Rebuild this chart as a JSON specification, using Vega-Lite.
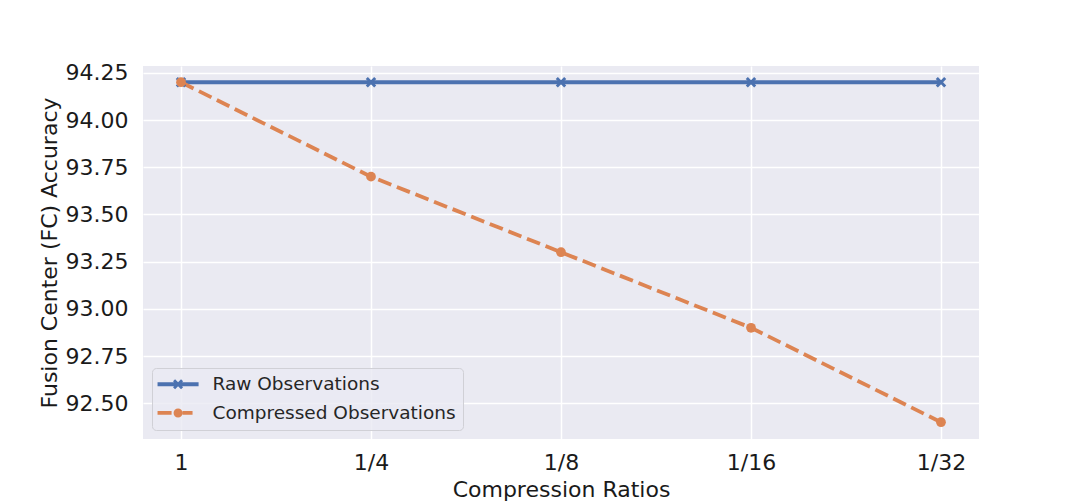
{
  "$schema": "https://vega.github.io/schema/vega-lite/v6.json",
  "autosize": {"type": "none"},
  "padding": {"left": 143, "top": 66, "right": 110, "bottom": 65},
  "width": 836,
  "height": 373,
  "background": "white",
  "data": {
    "values": [
      {"ratio": "1", "series": "Raw Observations", "accuracy": 94.2},
      {"ratio": "1/4", "series": "Raw Observations", "accuracy": 94.2},
      {"ratio": "1/8", "series": "Raw Observations", "accuracy": 94.2},
      {"ratio": "1/16", "series": "Raw Observations", "accuracy": 94.2},
      {"ratio": "1/32", "series": "Raw Observations", "accuracy": 94.2},
      {"ratio": "1", "series": "Compressed Observations", "accuracy": 94.2},
      {"ratio": "1/4", "series": "Compressed Observations", "accuracy": 93.7},
      {"ratio": "1/8", "series": "Compressed Observations", "accuracy": 93.3},
      {"ratio": "1/16", "series": "Compressed Observations", "accuracy": 92.9},
      {"ratio": "1/32", "series": "Compressed Observations", "accuracy": 92.4}
    ]
  },
  "encoding": {
    "x": {
      "field": "ratio",
      "type": "ordinal",
      "sort": ["1", "1/4", "1/8", "1/16", "1/32"],
      "scale": {"type": "point", "padding": 0.2},
      "axis": {
        "title": "Compression Ratios",
        "labelAngle": 0,
        "labelPadding": 13,
        "titlePadding": 6
      }
    },
    "y": {
      "field": "accuracy",
      "type": "quantitative",
      "scale": {"domain": [92.311, 94.286], "nice": false, "zero": false},
      "axis": {
        "title": "Fusion Center (FC) Accuracy",
        "values": [92.5, 92.75, 93.0, 93.25, 93.5, 93.75, 94.0, 94.25],
        "format": ".2f",
        "labelPadding": 15,
        "titlePadding": 4
      }
    },
    "color": {
      "field": "series",
      "type": "nominal",
      "scale": {
        "domain": ["Raw Observations", "Compressed Observations"],
        "range": ["#4C72B0", "#DD8452"]
      },
      "legend": {
        "title": null,
        "orient": "bottom-left",
        "offset": 9,
        "padding": 7,
        "rowPadding": 9.7,
        "labelOffset": 35,
        "labelLimit": 400,
        "labelFontSize": 18.5,
        "labelFont": "DejaVu Sans",
        "labelColor": "#262626",
        "fillColor": "rgba(234,234,242,0.8)",
        "strokeColor": "#d0d0d6",
        "cornerRadius": 4,
        "symbolSize": 324,
        "encode": {
          "symbols": {
            "update": {
              "shape": {"signal": "datum.value === 'Raw Observations' ? 'M-1.19,-0.21H3.37V0.21H-1.19Z M0.53,-0.33L0.76,-0.56L1.09,-0.22L1.42,-0.56L1.65,-0.33L1.31,0L1.65,0.33L1.42,0.56L1.09,0.22L0.76,0.56L0.53,0.33L0.87,0Z' : 'M-1.19,-0.21H0.37V0.21H-1.19Z M0.59,0A0.5,0.5 0 1,1 1.59,0A0.5,0.5 0 1,1 0.59,0Z M1.59,-0.21H2.7V0.21H1.59Z'"},
              "fill": {"signal": "datum.value === 'Raw Observations' ? '#4C72B0' : '#DD8452'"},
              "stroke": {"value": "transparent"},
              "strokeWidth": {"value": 0},
              "opacity": {"value": 1},
              "size": {"value": 324}
            }
          }
        }
      }
    }
  },
  "layer": [
    {
      "mark": {"type": "line", "strokeWidth": 3.8},
      "encoding": {
        "strokeDash": {
          "field": "series",
          "type": "nominal",
          "scale": {
            "domain": ["Raw Observations", "Compressed Observations"],
            "range": [[1, 0], [14, 6]]
          },
          "legend": null
        }
      }
    },
    {
      "transform": [{"filter": "datum.series === 'Raw Observations'"}],
      "mark": {
        "type": "point",
        "filled": true,
        "opacity": 1,
        "size": 110,
        "shape": "M-1,-0.6L-0.6,-1L0,-0.4L0.6,-1L1,-0.6L0.4,0L1,0.6L0.6,1L0,0.4L-0.6,1L-1,0.6L-0.4,0Z"
      }
    },
    {
      "transform": [{"filter": "datum.series === 'Compressed Observations'"}],
      "mark": {
        "type": "point",
        "filled": true,
        "opacity": 1,
        "size": 95,
        "shape": "circle"
      }
    }
  ],
  "config": {
    "view": {"fill": "#EAEAF2", "stroke": null},
    "axis": {
      "labelFont": "DejaVu Sans",
      "labelFontSize": 22,
      "labelColor": "#1a1a1a",
      "titleFont": "DejaVu Sans",
      "titleFontSize": 22,
      "titleFontWeight": "normal",
      "titleColor": "#1a1a1a",
      "ticks": false,
      "domain": false,
      "grid": true,
      "gridColor": "#ffffff",
      "gridWidth": 1.5,
      "gridOpacity": 1
    }
  }
}
